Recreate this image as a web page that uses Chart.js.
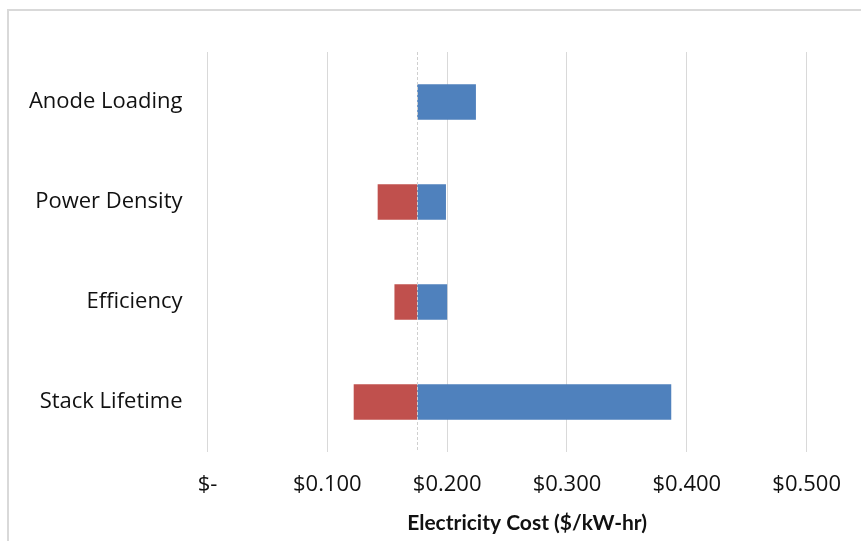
<!DOCTYPE html>
<html>
<head>
<meta charset="utf-8">
<script src="https://cdn.jsdelivr.net/npm/chart.js@4/dist/chart.umd.min.js"></script>
<style>
  html, body { margin: 0; padding: 0; background: #fff; overflow: hidden; }
  #wrap { position: relative; width: 861px; height: 541px; }
  #frame { position: absolute; left: 7px; top: 9px; width: 900px; height: 600px;
           border-top: 2px solid #d9d9d9; border-left: 2px solid #d9d9d9; }
  canvas { position: absolute; left: 0; top: 0; }
</style>
</head>
<body>
<div id="wrap">
  <div id="frame"></div>
  <canvas id="costChart" width="861" height="541"></canvas>
</div>
<script>
// Sensitivity of electricity cost: low / high value of each parameter around the base case
const categories = ['Anode Loading', 'Power Density', 'Efficiency', 'Stack Lifetime'];
const baseCost = 0.175;
const lowCost = [0.175, 0.142, 0.156, 0.122];
const highCost = [0.224, 0.199, 0.200, 0.387];
const xTickLabels = ['$-', '$0.100', '$0.200', '$0.300', '$0.400', '$0.500'];
const xTitle = 'Electricity Cost ($/kW-hr)';

const labelFont = { family: 'Open Sans', size: 22 };

// dashed vertical line at the base case cost, plus the axis title
// (drawn here because Excel's title sits a bit right of the plot centre)
const extras = {
    id: 'extras',
    afterDatasetsDraw(chart) {
        const ctx = chart.ctx;
        const area = chart.chartArea;
        const x = Math.round(chart.scales.x.getPixelForValue(baseCost)) + 0.5;
        ctx.save();
        ctx.strokeStyle = '#cfcfcf';
        ctx.lineWidth = 1;
        ctx.setLineDash([3, 2]);
        ctx.beginPath();
        ctx.moveTo(x, area.top);
        ctx.lineTo(x, area.bottom);
        ctx.stroke();
        ctx.restore();
    },
    afterDraw(chart) {
        const ctx = chart.ctx;
        const area = chart.chartArea;
        ctx.save();
        ctx.fillStyle = '#111';
        ctx.font = 'bold 21px Lato';
        ctx.textAlign = 'center';
        ctx.textBaseline = 'middle';
        ctx.fillText(xTitle, (area.left + area.right) / 2 + 20, 523);
        ctx.restore();
    }
};

const ctx = document.getElementById('costChart').getContext('2d');
const costChart = new Chart(ctx, {
    type: 'bar',
    data: {
        labels: categories,
        datasets: [
            {
                label: 'Low',
                data: lowCost.map(v => [v, baseCost]),
                backgroundColor: '#c0504d',
            },
            {
                label: 'High',
                data: highCost.map(v => [baseCost, v]),
                backgroundColor: '#4f81bd',
            }
        ]
    },
    options: {
        indexAxis: 'y',
        responsive: false,
        animation: false,
        layout: { padding: { left: 8, right: 53.5, top: 52, bottom: 0 } },
        datasets: {
            bar: {
                grouped: false,
                barPercentage: 0.355,
                categoryPercentage: 1,
                borderWidth: 0
            }
        },
        plugins: {
            legend: { display: false },
            tooltip: { enabled: false }
        },
        scales: {
            x: {
                min: 0,
                max: 0.5,
                ticks: {
                    stepSize: 0.1,
                    autoSkip: false,
                    maxRotation: 0,
                    padding: 20,
                    color: '#111',
                    font: labelFont,
                    callback: (v, i) => xTickLabels[i]
                },
                grid: { color: '#d9d9d9', drawTicks: false },
                border: { display: false },
                afterFit: s => { s.height = 89; }
            },
            y: {
                ticks: { padding: 17, color: '#111', font: labelFont },
                grid: { display: false },
                border: { display: false },
                afterFit: s => { s.width = 199.5; }
            }
        }
    },
    plugins: [extras]
});
</script>
</body>
</html>
